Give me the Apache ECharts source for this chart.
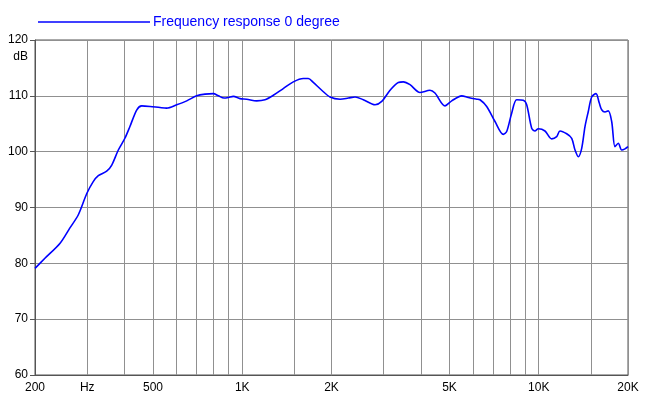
<!DOCTYPE html>
<html>
<head>
<meta charset="utf-8">
<script src="https://cdn.jsdelivr.net/npm/echarts@6/dist/echarts.min.js"></script>
<style>
  html, body { margin: 0; padding: 0; background: #fff; }
  #chart { width: 650px; height: 403px; }
</style>
</head>
<body>
<div id="chart"></div>
<script>
// frequency (Hz) and level (dB)
var freqs = [200, 216, 243, 262, 280, 299, 314, 327, 349, 363, 382, 402, 418, 441, 458, 489, 528, 556,
    601, 650, 702, 749, 799, 831, 868, 898, 933, 983, 1035, 1119, 1193, 1273, 1375, 1487, 1607, 1670,
    1736, 1854, 1977, 2137, 2279, 2401, 2560, 2805, 2955, 3151, 3360, 3493, 3680, 3976, 4296, 4466,
    4828, 5086, 5497, 5786, 6176, 6336, 6675, 7120, 7592, 7796, 8104, 8426, 8869, 9106, 9467, 9712,
    9964, 10496, 11057, 11495, 11793, 12424, 12917, 13252, 13595, 13959, 14321, 14693, 15086, 15598,
    16002, 16304, 16726, 17160, 17620, 18077, 18545, 19041, 19540, 20000];
var levels = [79.1, 80.9, 83.6, 86.3, 88.7, 92.5, 94.6, 95.7, 96.5, 97.6, 100.3, 102.4, 104.5, 107.5, 108.2, 108.1, 107.9, 107.8,
    108.4, 109.1, 110.0, 110.3, 110.4, 110.0, 109.6, 109.7, 109.9, 109.5, 109.4, 109.1, 109.3, 110.1, 111.3, 112.5, 113.1, 113.1,
    112.4, 111.0, 109.8, 109.4, 109.6, 109.8, 109.3, 108.4, 109.0, 111.0, 112.4, 112.5, 112.0, 110.6, 111.0, 110.5,
    108.2, 109.1, 110.0, 109.7, 109.4, 109.3, 108.1, 105.4, 103.1, 103.6, 106.9, 109.3, 109.2, 108.4, 104.2, 103.7,
    104.1, 103.7, 102.3, 102.7, 103.7, 103.2, 102.4, 100.3, 99.1, 100.6, 104.5, 107.2, 109.8, 110.4,
    108.7, 107.5, 107.1, 107.3, 105.4, 100.9, 101.5, 100.3, 100.5, 100.9];

var gridFreqs = [200, 300, 400, 500, 600, 700, 800, 900, 1000, 1500, 2000, 3000, 4000, 5000,
    6000, 7000, 8000, 9000, 10000, 15000, 20000];
var labelFreqs = [200, 300, 500, 1000, 2000, 5000, 10000, 20000];
var labelTexts = ['200', 'Hz', '500', '1K', '2K', '5K', '10K', '20K'];

var seriesName = 'Frequency response 0 degree';
var points = freqs.map(function (f, i) { return [f, levels[i]]; });

var myChart = echarts.init(document.getElementById('chart'));
var option = {
    backgroundColor: '#fff',
    animation: false,
    textStyle: { fontFamily: 'Liberation Sans, Arial, sans-serif' },
    grid: {
        left: 35, right: 22, top: 40, bottom: 28,
        show: true, borderColor: '#555', borderWidth: 1,
        containLabel: false, outerBoundsMode: 'none'
    },
    legend: {
        data: [seriesName],
        left: 38, top: 15,
        padding: 0,
        icon: 'rect',
        itemWidth: 112, itemHeight: 1.5, itemGap: 0,
        textStyle: { color: '#0000ff', fontSize: 14, padding: [0, 0, 5, -2] }
    },
    xAxis: {
        type: 'log',
        logBase: 10,
        min: 200, max: 20000,
        axisLine: { show: true, onZero: false, lineStyle: { color: '#555' } },
        axisTick: { show: false, customValues: gridFreqs },
        splitLine: { show: true, lineStyle: { color: '#909090', width: 1 } },
        axisLabel: {
            customValues: labelFreqs,
            color: '#000', fontSize: 12, margin: 7,
            formatter: function (v) {
                var i = labelFreqs.indexOf(Math.round(v));
                return i >= 0 ? labelTexts[i] : '';
            }
        }
    },
    yAxis: {
        type: 'value',
        min: 60, max: 120, interval: 10,
        axisLine: { show: true, lineStyle: { color: '#555' } },
        axisTick: { show: true, inside: false, length: 5, lineStyle: { color: '#555' } },
        splitLine: { show: true, lineStyle: { color: '#909090', width: 1 } },
        axisLabel: { color: '#000', fontSize: 12, margin: 7 }
    },
    graphic: [{
        type: 'text',
        right: 650 - 28, top: 51,
        style: { text: 'dB', fill: '#000', font: '12px Liberation Sans, Arial, sans-serif', textAlign: 'right' }
    }],
    series: [{
        name: seriesName,
        type: 'line',
        data: points,
        smooth: 0.3,
        symbol: 'none',
        color: '#0000ff',
        lineStyle: { color: '#0000ff', width: 1.6 }
    }]
};
myChart.setOption(option);
</script>
</body>
</html>
